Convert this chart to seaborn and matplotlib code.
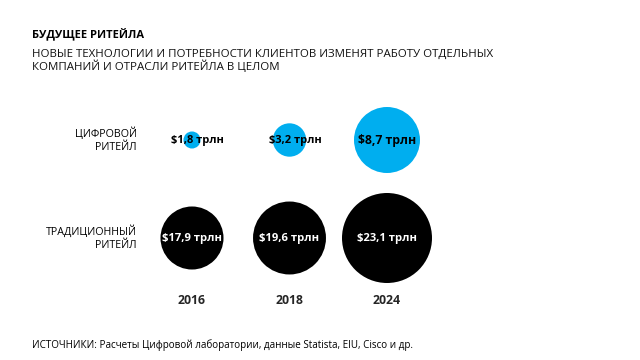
import matplotlib
matplotlib.use("Agg")
import matplotlib.pyplot as plt
import seaborn as sns
import pandas as pd

years = ["2016", "2018", "2024"]
digital = [1.8, 3.2, 8.7]
traditional = [17.9, 19.6, 23.1]
row_labels = ["ЦИФРОВОЙ\nРИТЕЙЛ", "ТРАДИЦИОННЫЙ\nРИТЕЙЛ"]
title = "БУДУЩЕЕ РИТЕЙЛА"
subtitle = "НОВЫЕ ТЕХНОЛОГИИ И ПОТРЕБНОСТИ КЛИЕНТОВ ИЗМЕНЯТ РАБОТУ ОТДЕЛЬНЫХ\nКОМПАНИЙ И ОТРАСЛИ РИТЕЙЛА В ЦЕЛОМ"
source = "ИСТОЧНИКИ: Расчеты Цифровой лаборатории, данные Statista, EIU, Cisco и др."

sns.set_theme(style="white")
plt.rcParams["font.family"] = ["Open Sans", "DejaVu Sans"]

W, H = 640, 360
fig = plt.figure(figsize=(6.4, 3.6), dpi=100)
ax = fig.add_axes([94.5 / W, (H - 287) / H, 390 / W, 196 / H])

df_d = pd.DataFrame({"year": years, "value": digital, "row": 0})
df_t = pd.DataFrame({"year": years, "value": traditional, "row": 1})

sns.scatterplot(data=df_d, x="year", y="row", size="value", sizes=(150, 2258),
                size_norm=(min(digital), max(digital)), color="#00AEEF",
                linewidth=0, legend=False, ax=ax)
sns.scatterplot(data=df_t, x="year", y="row", size="value", sizes=(2059, 4199),
                size_norm=(min(traditional), max(traditional)), color="#000000",
                linewidth=0, legend=False, ax=ax)

def fmt(v):
    return "$" + f"{v:.1f}".replace(".", ",") + " трлн"

for i, v in enumerate(digital):
    ax.text(i + (0.06 if i < 2 else 0), 0.01, fmt(v), ha="center", va="center",
            fontsize=8 if i < 2 else 8.8, fontweight="bold", color="black")
for i, v in enumerate(traditional):
    ax.text(i, 1, fmt(v), ha="center", va="center", fontsize=8.1,
            fontweight="bold", color="white")

for r, lab in enumerate(row_labels):
    ax.text(-0.565, r, lab, ha="right", va="center", fontsize=7.7,
            multialignment="right", linespacing=1.2, color="black")

ax.set_xlim(-1, 3)
ax.set_ylim(1.5, -0.5)
ax.set_xticks(range(3))
ax.set_xticklabels(years, fontsize=8.8, fontweight="bold")
ax.tick_params(axis="x", length=0, pad=5)
ax.set_yticks([])
ax.set_xlabel("")
ax.set_ylabel("")
for s in ax.spines.values():
    s.set_visible(False)
ax.patch.set_alpha(0)

fig.text(32 / W, 1 - 35 / H, title, ha="left", va="center", fontsize=8,
         fontweight="bold", color="black")
fig.text(32 / W, 1 - 61 / H, subtitle, ha="left", va="center", fontsize=8.25,
         linespacing=1.0, color="#111111")
fig.text(32 / W, 1 - 345 / H, source, ha="left", va="center", fontsize=7.1,
         color="black")

fig.savefig("out.png", dpi=100)
